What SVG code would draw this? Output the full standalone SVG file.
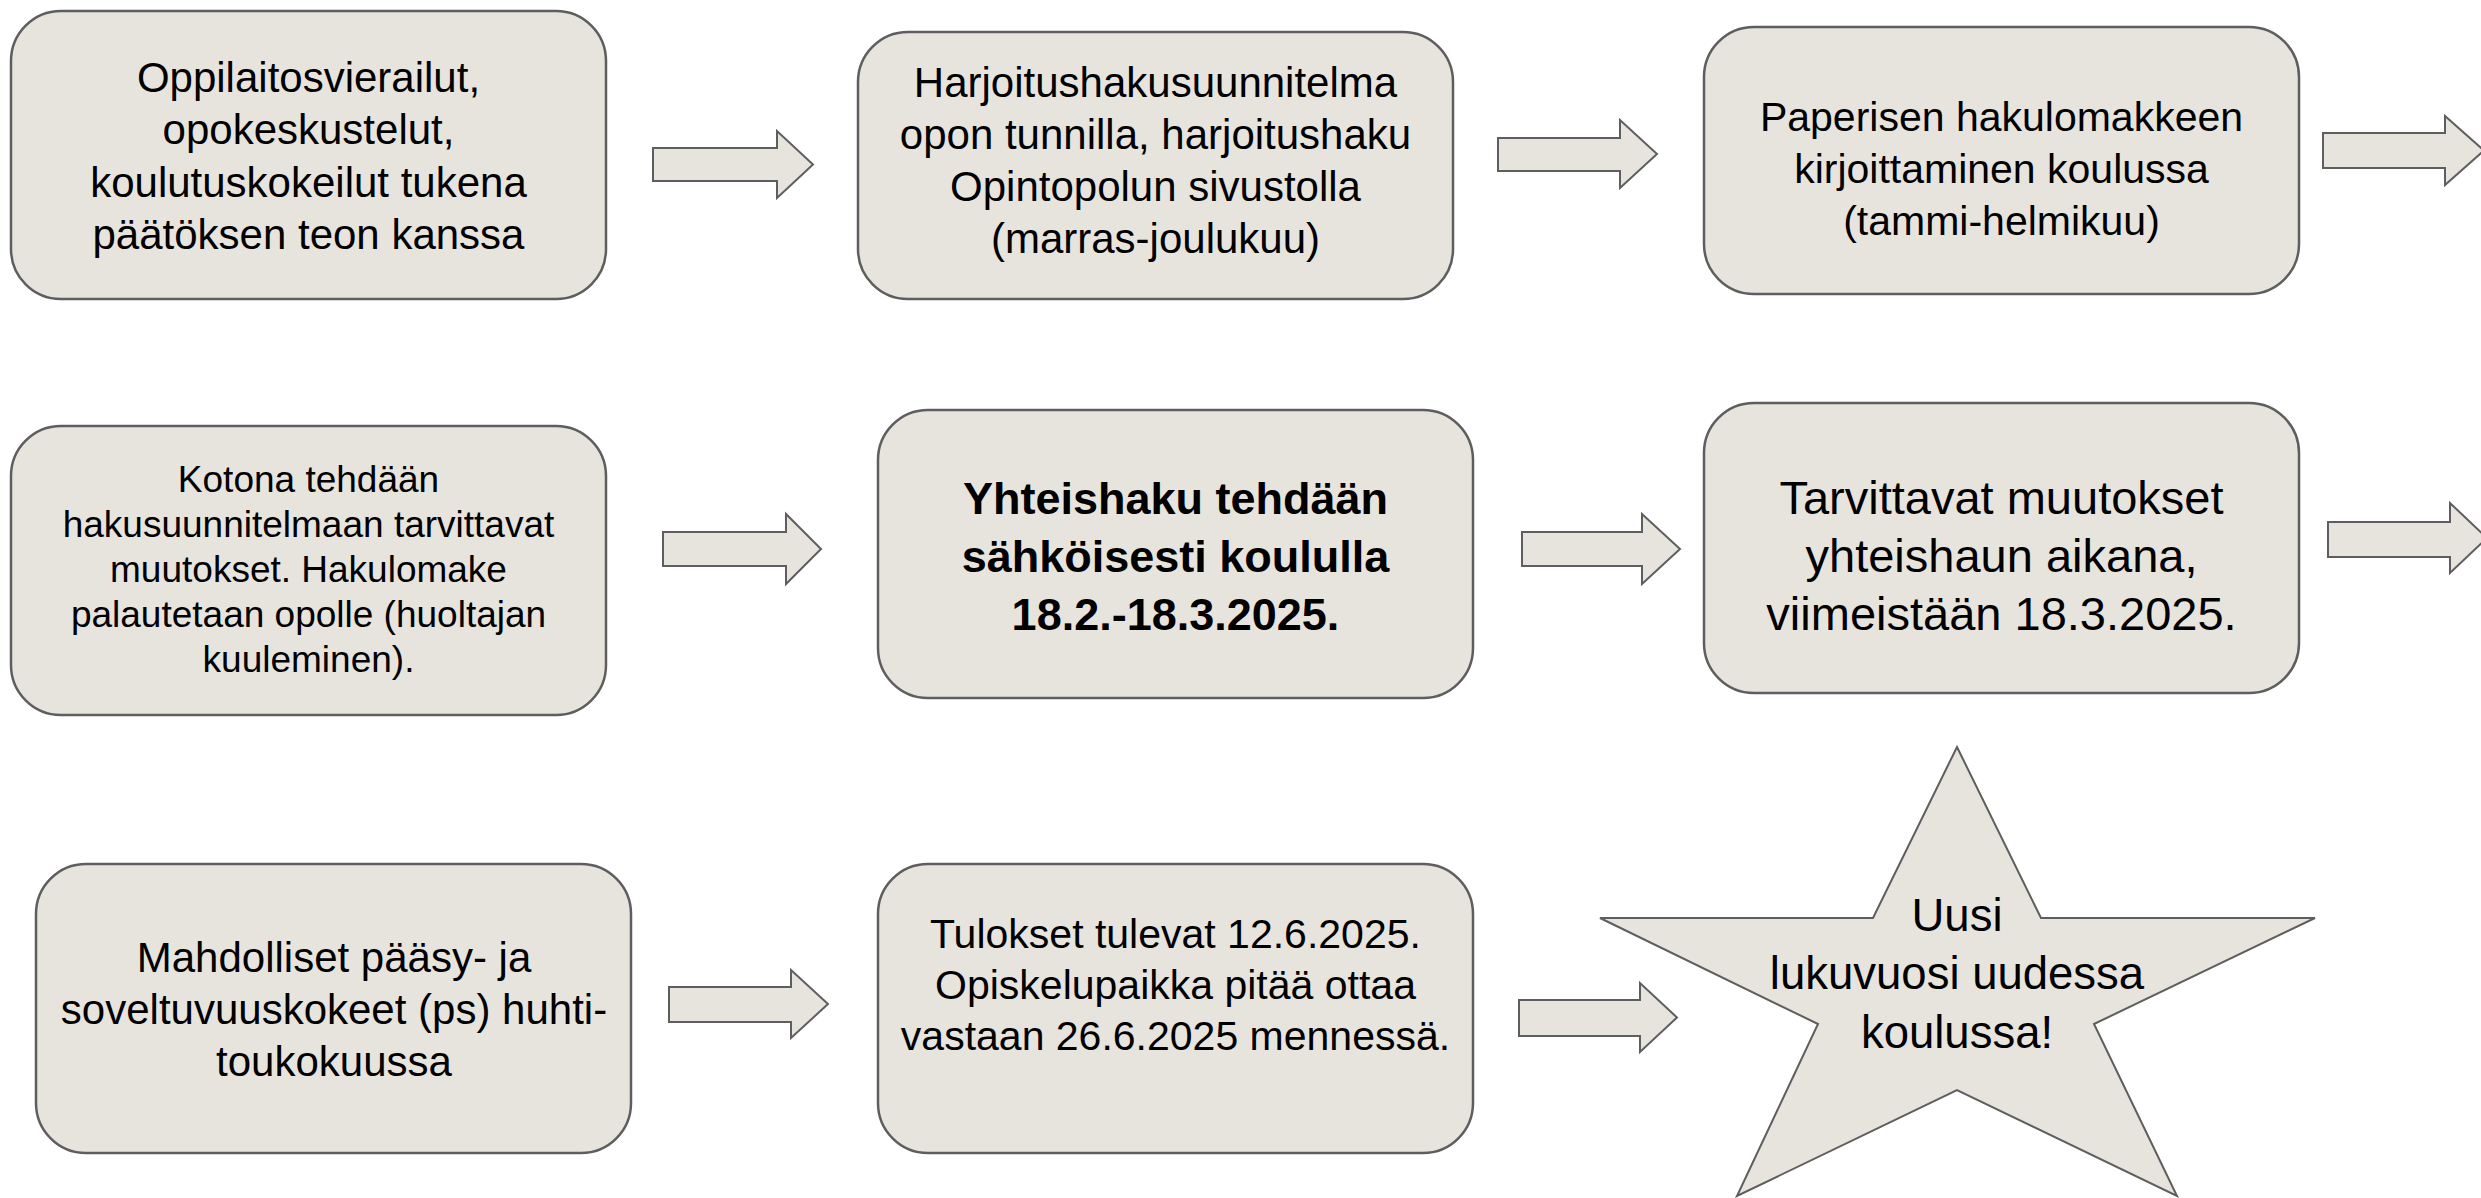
<svg xmlns="http://www.w3.org/2000/svg" width="2481" height="1198" viewBox="0 0 2481 1198">
<style>
.box{fill:#E7E4DE;stroke:#5E5E5E;stroke-width:2.5}
.arr{fill:#E7E4DE;stroke:#5E5E5E;stroke-width:2}
text{font-family:"Liberation Sans",Arial,sans-serif;fill:#000;text-anchor:middle}
.t42{font-size:42px}
.t41{font-size:41px}
.t37{font-size:37px}
.t47{font-size:47px}
.t46{font-size:45.5px}
.b45{font-size:45px;font-weight:bold}
</style>
<rect width="2481" height="1198" fill="#FFFFFF"/>
<g id="connectors">
<polygon class="arr" points="653,148 777,148 777,131 813,164.5 777,198 777,181 653,181"/>
<polygon class="arr" points="1498,138 1620,138 1620,120 1657,154 1620,188 1620,171 1498,171"/>
<polygon class="arr" points="2323,133 2445,133 2445,116 2484,150.5 2445,185 2445,168 2323,168"/>
<polygon class="arr" points="663,532 786,532 786,514 821,549 786,584 786,566 663,566"/>
<polygon class="arr" points="1522,532 1642,532 1642,514 1680,549 1642,584 1642,566 1522,566"/>
<polygon class="arr" points="2328,522 2450,522 2450,503 2487,538 2450,573 2450,557 2328,557"/>
<polygon class="arr" points="669,987 791,987 791,970 828,1004 791,1038 791,1022 669,1022"/>
<polygon class="arr" points="1519,1000 1640,1000 1640,983 1677,1017.5 1640,1052 1640,1036 1519,1036"/>
</g>
<g id="n1">
<rect class="box" x="11" y="11" width="595" height="288" rx="50"/>
<text class="t42"><tspan x="308.5" y="92">Oppilaitosvierailut,</tspan><tspan x="308.5" y="144">opokeskustelut,</tspan><tspan x="308.5" y="197">koulutuskokeilut tukena</tspan><tspan x="308.5" y="249">päätöksen teon kanssa</tspan></text>
</g>
<g id="n2">
<rect class="box" x="858" y="32" width="595" height="267" rx="50"/>
<text class="t42"><tspan x="1155.5" y="97">Harjoitushakusuunnitelma</tspan><tspan x="1155.5" y="149">opon tunnilla, harjoitushaku</tspan><tspan x="1155.5" y="201">Opintopolun sivustolla</tspan><tspan x="1155.5" y="253">(marras-joulukuu)</tspan></text>
</g>
<g id="n3">
<rect class="box" x="1704" y="27" width="595" height="267" rx="50"/>
<text class="t41"><tspan x="2001.5" y="131">Paperisen hakulomakkeen</tspan><tspan x="2001.5" y="183">kirjoittaminen koulussa</tspan><tspan x="2001.5" y="235">(tammi-helmikuu)</tspan></text>
</g>
<g id="n4">
<rect class="box" x="11" y="426" width="595" height="289" rx="50"/>
<text class="t37"><tspan x="308.5" y="492">Kotona tehdään</tspan><tspan x="308.5" y="537">hakusuunnitelmaan tarvittavat</tspan><tspan x="308.5" y="582">muutokset. Hakulomake</tspan><tspan x="308.5" y="627">palautetaan opolle (huoltajan</tspan><tspan x="308.5" y="672">kuuleminen).</tspan></text>
</g>
<g id="n5">
<rect class="box" x="878" y="410" width="595" height="288" rx="50"/>
<text class="b45"><tspan x="1175.5" y="514">Yhteishaku tehdään</tspan><tspan x="1175.5" y="572">sähköisesti koululla</tspan><tspan x="1175.5" y="630">18.2.-18.3.2025.</tspan></text>
</g>
<g id="n6">
<rect class="box" x="1704" y="403" width="595" height="290" rx="50"/>
<text class="t47"><tspan x="2001.5" y="514">Tarvittavat muutokset</tspan><tspan x="2001.5" y="572">yhteishaun aikana,</tspan><tspan x="2001.5" y="630">viimeistään 18.3.2025.</tspan></text>
</g>
<g id="n7">
<rect class="box" x="36" y="864" width="595" height="289" rx="50"/>
<text class="t42"><tspan x="334" y="972">Mahdolliset pääsy- ja</tspan><tspan x="334" y="1024">soveltuvuuskokeet (ps) huhti-</tspan><tspan x="334" y="1076">toukokuussa</tspan></text>
</g>
<g id="n8">
<rect class="box" x="878" y="864" width="595" height="289" rx="50"/>
<text class="t41"><tspan x="1175.5" y="948">Tulokset tulevat 12.6.2025.</tspan><tspan x="1175.5" y="999">Opiskelupaikka pitää ottaa</tspan><tspan x="1175.5" y="1050">vastaan 26.6.2025 mennessä.</tspan></text>
</g>
<g id="n9">
<polygon class="arr" points="1957,747 2041,918 2315,918 2094,1024 2177,1196 1957,1090 1737,1196 1818,1024 1600,918 1873,918"/>
<text class="t46"><tspan x="1957" y="931">Uusi</tspan><tspan x="1957" y="989">lukuvuosi uudessa</tspan><tspan x="1957" y="1048">koulussa!</tspan></text>
</g>
</svg>
